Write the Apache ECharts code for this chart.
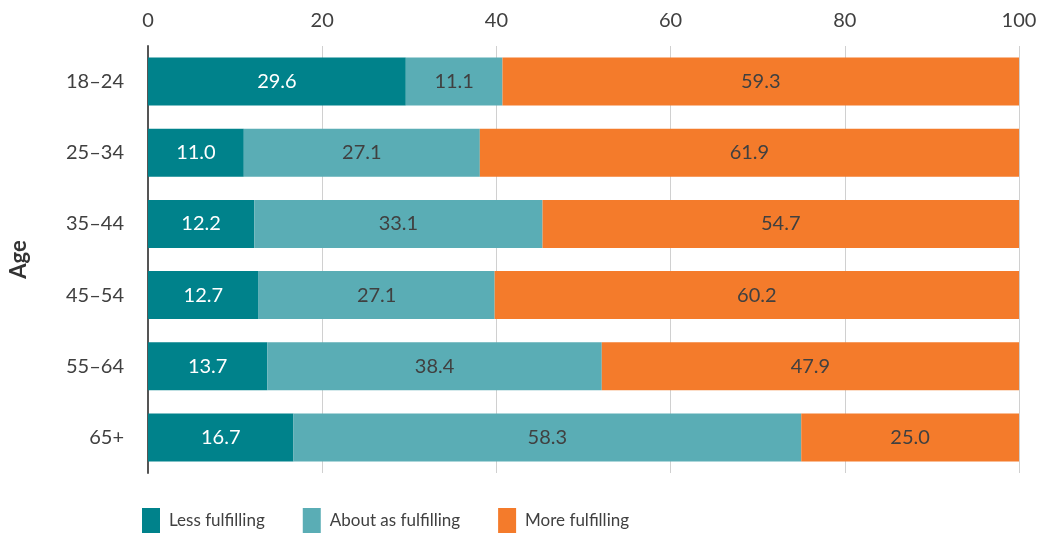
<!DOCTYPE html>
<html><head><meta charset="utf-8">
<script src="https://cdn.jsdelivr.net/npm/echarts@6/dist/echarts.min.js"></script>
<style>html,body{margin:0;padding:0;background:#fff}#c{width:1041px;height:538px}</style>
</head><body><div id="c"></div>
<script>
const categories = ['18–24','25–34','35–44','45–54','55–64','65+'];
const lessFulfilling = [29.6, 11.0, 12.2, 12.7, 13.7, 16.7];
const aboutAsFulfilling = [11.1, 27.1, 33.1, 27.1, 38.4, 58.3];
const moreFulfilling = [59.3, 61.9, 54.7, 60.2, 47.9, 25.0];
const seriesNames = ['Less fulfilling','About as fulfilling','More fulfilling'];
const xTicks = [0,20,40,60,80,100];

const font = 'Lato, "Open Sans", sans-serif';
const txt = '#404040';
function mk(name, data, color, labelColor){
  return {name, type:'bar', stack:'a', data, barWidth:48,
    itemStyle:{color},
    label:{show:true, position:'inside', color:labelColor, fontFamily:font, fontSize:20,
      formatter:p=>p.value.toFixed(1)}};
}
const chart = echarts.init(document.getElementById('c'));
chart.setOption({
  animation:false,
  grid:{left:147, right:22, top:46, bottom:65},
  xAxis:{type:'value', position:'top', min:xTicks[0], max:xTicks[xTicks.length-1], interval:20,
    axisLine:{show:false}, axisTick:{show:false},
    axisLabel:{color:txt, fontFamily:font, fontSize:20, margin:15},
    splitLine:{show:true, lineStyle:{color:'#d0d0d0', width:1}}},
  yAxis:{type:'category', data:categories, inverse:true,
    axisLine:{show:true, lineStyle:{color:'#555', width:2}}, axisTick:{show:false},
    axisLabel:{color:txt, fontFamily:font, fontSize:20, margin:24},
    name:'Age', nameLocation:'middle', nameRotate:90, nameGap:118,
    nameTextStyle:{color:'#333', fontFamily:font, fontSize:22, fontWeight:'bold'}},
  legend:{bottom:0, left:137, icon:'rect', itemWidth:18, itemHeight:25, itemGap:38,
    textStyle:{color:txt, fontFamily:font, fontSize:17, padding:[0,0,0,4]}, data:seriesNames},
  series:[
    mk(seriesNames[0], lessFulfilling, '#00828B', '#ffffff'),
    mk(seriesNames[1], aboutAsFulfilling, '#5AADB5', txt),
    mk(seriesNames[2], moreFulfilling, '#F47B2B', txt)
  ]
});
</script></body></html>
